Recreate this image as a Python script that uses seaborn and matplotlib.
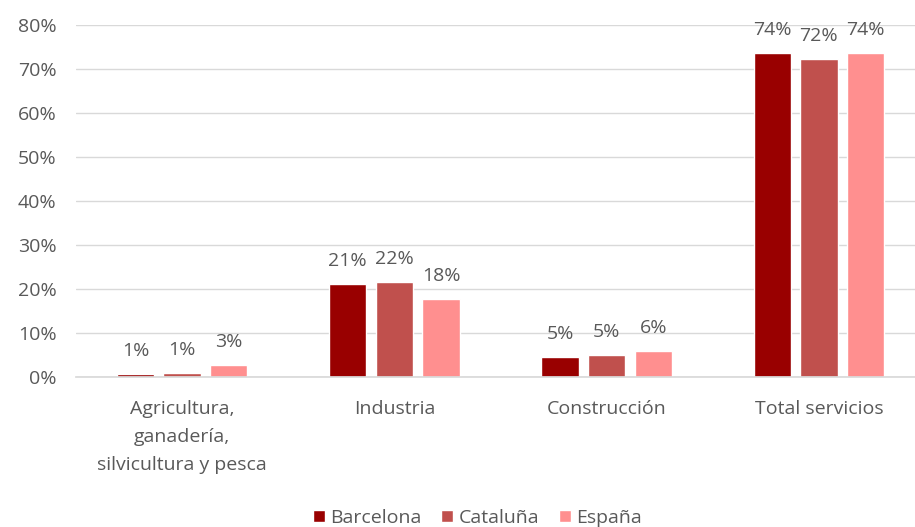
import matplotlib
matplotlib.use("Agg")
import matplotlib.pyplot as plt
import seaborn as sns
import pandas as pd
from matplotlib.ticker import FuncFormatter

categories = ["Agricultura,\nganadería,\nsilvicultura y pesca", "Industria", "Construcción", "Total servicios"]
series = ["Barcelona", "Cataluña", "España"]
barcelona = [0.6, 21.2, 4.6, 73.6]
cataluna = [0.8, 21.6, 5.0, 72.2]
espana = [2.7, 17.7, 5.8, 73.6]
colors = ["#990000", "#C0504D", "#FF8F8F"]

rows = []
for s, vals in zip(series, [barcelona, cataluna, espana]):
    for c, v in zip(categories, vals):
        rows.append({"cat": c, "serie": s, "val": v})
df = pd.DataFrame(rows)

sns.set_theme(style="white")
plt.rcParams["font.family"] = ["Open Sans", "DejaVu Sans"]
txt = "#595959"
fs = 14

fig = plt.figure(figsize=(9.15, 5.27), dpi=100)
ax = fig.add_axes([0.083, 0.285, 0.928, 0.668])
sns.barplot(data=df, x="cat", y="val", hue="serie", palette=colors, width=0.66, gap=0.2,
            ax=ax, saturation=1, legend=True)

ax.set_ylim(0, 80)
ax.set_yticks(range(0, 81, 10))
ax.yaxis.set_major_formatter(FuncFormatter(lambda v, p: f"{v:.0f}%"))
ax.grid(axis="y", color="#D9D9D9", linewidth=1)
ax.set_axisbelow(True)
for sp in ["top", "right", "left"]:
    ax.spines[sp].set_visible(False)
ax.spines["bottom"].set_color("#D9D9D9")
ax.set_xlabel("")
ax.set_ylabel("")
ax.tick_params(axis="both", length=0, labelsize=fs, colors=txt)
ax.tick_params(axis="x", pad=17)
ax.tick_params(axis="y", pad=14)
for lab in ax.get_xticklabels():
    lab.set_linespacing(1.7)

for cont in ax.containers:
    ax.bar_label(cont, labels=[f"{v:.0f}%" for v in cont.datavalues], padding=10,
                 fontsize=fs, color=txt)

leg = ax.legend(loc="center", bbox_to_anchor=(0.473, -0.40), ncol=3, frameon=False,
                fontsize=fs, handlelength=0.6, handleheight=0.6, handletextpad=0.3,
                columnspacing=1.0)
for t in leg.get_texts():
    t.set_color(txt)

fig.savefig("out.png", dpi=100)
